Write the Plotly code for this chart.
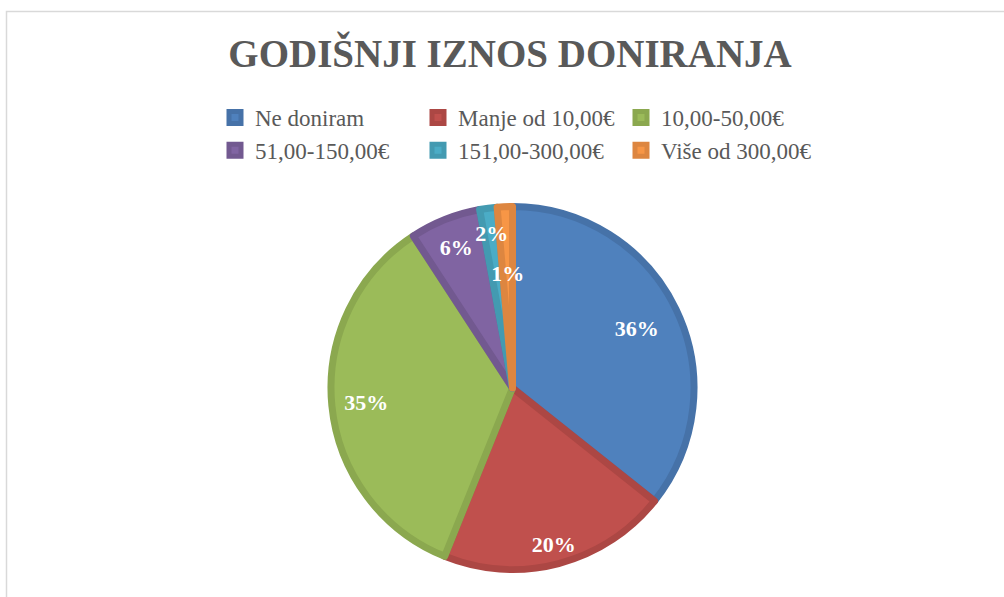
import plotly.graph_objects as go

categories = ["Ne doniram", "Manje od 10,00€", "10,00-50,00€",
              "51,00-150,00€", "151,00-300,00€", "Više od 300,00€"]
shares = [35.7, 20.4, 34.7, 6.3, 1.55, 1.35]
fill_colors = ["#4F81BD", "#C0504D", "#9BBB59", "#8064A2", "#4BACC6", "#F79646"]
edge_colors = ["#4672A8", "#AC4744", "#8BA84F", "#725990", "#439AB1", "#DD8640"]
title_text = "GODIŠNJI IZNOS DONIRANJA"

W, H = 1004, 597
ML, MR = 180, 180
PW = W - ML - MR
SERIF = "Liberation Serif, Times New Roman, serif"

cx, cy, r = 512.5, 388, 181.5
label_font = dict(family=SERIF, size=22, color="white", weight="bold")
n = len(categories)


def dom(rad):
    return dict(x=[(cx - rad - ML) / PW, (cx + rad - ML) / PW],
                y=[max(0, 1 - (cy + rad) / H), 1 - (cy - rad) / H])


def text_pie(rad, show_idx, pull=0):
    pos = ["inside" if i in show_idx else "none" for i in range(n)]
    return go.Pie(labels=categories, values=shares, sort=False,
                  direction="clockwise", rotation=0, pull=pull,
                  marker=dict(colors=["rgba(0,0,0,0)"] * n, line=dict(width=0)),
                  texttemplate="%{percent:.0%}", textposition=pos,
                  insidetextorientation="horizontal", textfont=label_font,
                  domain=dom(rad), showlegend=False, hoverinfo="skip")


main = go.Pie(
    labels=categories, values=shares, sort=False,
    direction="clockwise", rotation=0,
    marker=dict(colors=fill_colors, line=dict(color=edge_colors, width=7)),
    texttemplate="%{percent:.0%}",
    textposition=["none", "none", "none", "inside", "none", "none"],
    insidetextorientation="horizontal", textfont=label_font,
    domain=dom(r), hoverinfo="label+percent",
)

fig = go.Figure([main,
                 text_pie(209, {0, 1, 2}, pull=[0.572, 0.663, 0.64, 0, 0, 0]),
                 text_pie(164, {4}),
                 text_pie(119, {5})])

fig.update_layout(
    width=W, height=H,
    margin=dict(l=ML, r=MR, t=0, b=0),
    paper_bgcolor="white",
    plot_bgcolor="white",
    font=dict(family=SERIF, color="#595959"),
    title=dict(text=title_text, x=0.508, xanchor="center", xref="container",
               y=1 - 53 / H, yanchor="middle", yref="container",
               font=dict(family=SERIF, size=39, color="#595959", weight="bold")),
    legend=dict(orientation="h", x=(215 - ML) / PW, xanchor="left",
                y=1 - 96 / H, yanchor="top",
                entrywidth=158, entrywidthmode="pixels",
                font=dict(family=SERIF, size=23, color="#595959"),
                bgcolor="rgba(0,0,0,0)"),
    uniformtext=dict(minsize=22, mode="show"),
    shapes=[dict(type="rect", xref="paper", yref="paper",
                 x0=(6.5 - ML) / PW, x1=1.5, y0=-0.1, y1=1 - 11.5 / H,
                 line=dict(color="#D9D9D9", width=1.5), fillcolor="rgba(0,0,0,0)",
                 layer="below")],
)

fig.write_html("out.html", config={"displayModeBar": False},
               post_script="document.body.style.margin='0';document.body.style.overflow='hidden';")
